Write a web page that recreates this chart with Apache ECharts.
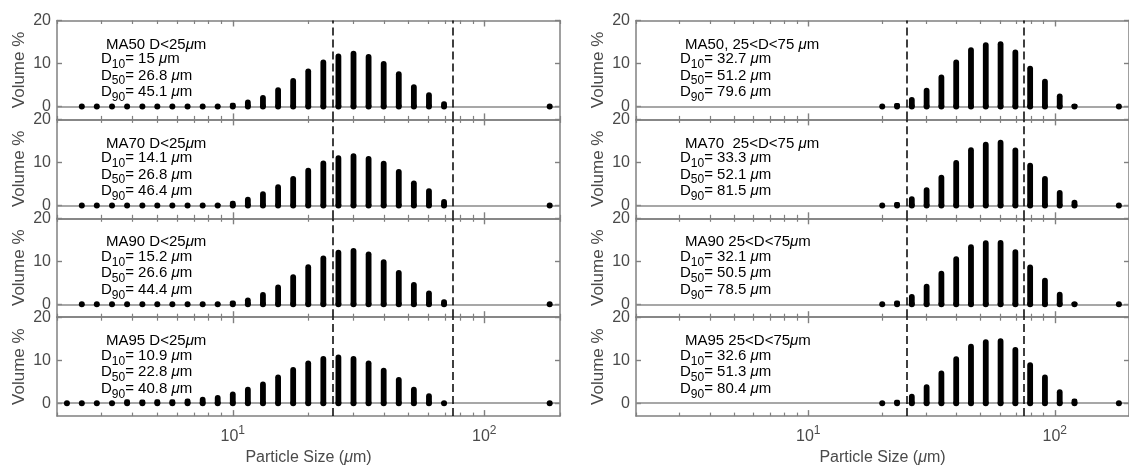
<!DOCTYPE html>
<html><head><meta charset="utf-8">
<script src="https://cdn.jsdelivr.net/npm/echarts@6/dist/echarts.min.js"></script>
<style>html,body{margin:0;padding:0;background:#fff}#c{width:1129px;height:470px}</style>
</head><body><div id="c"></div><script>
// ---- data ----
// particle size bins (µm), fine (D<25) fractions and coarse (25<D<75) fractions
const sizesFine = [2.19, 2.51, 2.88, 3.31, 3.80, 4.37, 5.01, 5.75, 6.61, 7.59, 8.71, 10.0, 11.48, 13.18, 15.14, 17.38, 19.95, 22.91, 26.30, 30.20, 34.67, 39.81, 45.71, 52.48, 60.26, 69.18, 181.97];
const sizesCoarse = [19.95, 22.91, 26.30, 30.20, 34.67, 39.81, 45.71, 52.48, 60.26, 69.18, 79.43, 91.20, 104.7, 120.2, 181.97];

const volMA50Fine = [null, 0, 0, 0, 0, 0, 0, 0, 0, 0, 0.2, 0.85, 1.6, 2.7, 4.5, 6.6, 8.85, 10.95, 12.35, 12.95, 12.2, 10.6, 8.2, 5.2, 3.3, 1.2, 0];
const volMA70Fine = [null, 0, 0, 0, 0, 0, 0, 0, 0, 0, 0.3, 1.1, 2.0, 3.3, 4.9, 6.85, 8.75, 10.45, 11.65, 12.1, 11.5, 10.4, 8.45, 5.8, 4.0, 1.5, 0];
const volMA90Fine = [null, 0, 0, 0, 0, 0, 0, 0, 0, 0, 0.2, 0.9, 1.6, 2.85, 4.6, 7.0, 9.3, 11.35, 12.7, 13.1, 12.3, 10.5, 8.0, 5.2, 3.2, 1.2, 0];
const volMA95Fine = [0, 0, 0, 0.2, 0.9, 0.85, 0.9, 0.9, 1.1, 1.5, 1.9, 2.7, 3.8, 5.05, 6.7, 8.4, 9.95, 10.95, 11.35, 10.95, 9.95, 8.25, 6.1, 3.8, 2.3, 0.3, 0];

const volMA50Coarse = [0, 0.8, 2.2, 4.35, 7.45, 10.95, 13.8, 14.95, 15.15, 13.25, 9.5, 6.45, 3.05, 0.6, 0];
const volMA70Coarse = [0, 0.8, 2.1, 4.2, 7.15, 10.55, 13.5, 14.8, 15.25, 13.45, 9.9, 6.85, 3.6, 1.3, 0];
const volMA90Coarse = [0, 0.9, 2.4, 4.8, 7.8, 11.2, 13.95, 14.9, 14.95, 12.8, 9.25, 6.15, 2.9, 0.45, 0];
const volMA95Coarse = [0, 0.8, 2.2, 4.4, 7.6, 10.9, 13.8, 14.9, 15.1, 13.05, 9.55, 6.65, 3.25, 1.1, 0];

const titlesFine = ['MA50 D<25', 'MA70 D<25', 'MA90 D<25', 'MA95 D<25'];
const titlesCoarse = ['MA50, 25<D<75 ', 'MA70  25<D<75 ', 'MA90 25<D<75', 'MA95 25<D<75'];
const d10Fine = ['15', '14.1', '15.2', '10.9'];
const d50Fine = ['26.8', '26.8', '26.6', '22.8'];
const d90Fine = ['45.1', '46.4', '44.4', '40.8'];
const d10Coarse = ['32.7', '33.3', '32.1', '32.6'];
const d50Coarse = ['51.2', '52.1', '50.5', '51.3'];
const d90Coarse = ['79.6', '81.5', '78.5', '80.4'];

const cutSizes = [25, 75];
const xTicksMajor = [10, 100];
const xTicksMinor = [2, 3, 4, 5, 6, 7, 8, 9, 20, 30, 40, 50, 60, 70, 80, 90, 200];
const yTicks = [0, 10, 20];

// ---- layout / style ----
const FONT = 'Liberation Sans, Arial, Helvetica, sans-serif';
const colLeft = [57, 636], plotW = 503, top0 = 20.5, panelH = 98.9;
const FRAME = '#808080', AXTXT = '#4a4a4a', ANN = '#1a1a1a';

const panels = [
  {col: 0, sizes: sizesFine, vals: volMA50Fine, title: titlesFine[0], d: [d10Fine[0], d50Fine[0], d90Fine[0]]},
  {col: 0, sizes: sizesFine, vals: volMA70Fine, title: titlesFine[1], d: [d10Fine[1], d50Fine[1], d90Fine[1]]},
  {col: 0, sizes: sizesFine, vals: volMA90Fine, title: titlesFine[2], d: [d10Fine[2], d50Fine[2], d90Fine[2]]},
  {col: 0, sizes: sizesFine, vals: volMA95Fine, title: titlesFine[3], d: [d10Fine[3], d50Fine[3], d90Fine[3]]},
  {col: 1, sizes: sizesCoarse, vals: volMA50Coarse, title: titlesCoarse[0], d: [d10Coarse[0], d50Coarse[0], d90Coarse[0]]},
  {col: 1, sizes: sizesCoarse, vals: volMA70Coarse, title: titlesCoarse[1], d: [d10Coarse[1], d50Coarse[1], d90Coarse[1]]},
  {col: 1, sizes: sizesCoarse, vals: volMA90Coarse, title: titlesCoarse[2], d: [d10Coarse[2], d50Coarse[2], d90Coarse[2]]},
  {col: 1, sizes: sizesCoarse, vals: volMA95Coarse, title: titlesCoarse[3], d: [d10Coarse[3], d50Coarse[3], d90Coarse[3]]}
];

const grid = [], xAxis = [], yAxis = [], series = [], graphic = [];
const annRich = {
  n: {fontSize: 15, fontFamily: FONT, color: ANN},
  s: {fontSize: 12, fontFamily: FONT, color: ANN, padding: [11, 0, 0, 0]},
  mu: {fontSize: 15, fontFamily: FONT, color: ANN, fontStyle: 'italic'}
};

panels.forEach((p, gi) => {
  const row = gi % 4;
  const top = top0 + row * panelH;
  const left = colLeft[p.col];
  grid.push({left: left, top: top, width: plotW, height: panelH, show: false});
  const bottomRow = row === 3;
  const xBase = {
    type: 'log', logBase: 10, gridIndex: gi, min: 2, max: 200,
    splitLine: {show: false}, axisPointer: {show: false}
  };
  const xi = xAxis.length;
  xAxis.push(Object.assign({}, xBase, {
    position: 'bottom',
    axisLine: {show: true, onZero: false, lineStyle: {color: FRAME, width: 1.5}},
    axisTick: {show: true, inside: true, length: 6, customValues: xTicksMajor, lineStyle: {color: FRAME, width: 1.4}},
    axisLabel: {show: bottomRow, customValues: xTicksMajor, margin: 9,
      formatter: v => '{b|10}{s|' + Math.round(Math.log10(v)) + '}',
      rich: {b: {fontSize: 16, fontFamily: FONT, color: AXTXT}, s: {fontSize: 12, fontFamily: FONT, color: AXTXT, padding: [0, 0, 10, 0]}}},
    name: bottomRow ? '{n|Particle Size (}{mu|\u03bc}{n|m)}' : '',
    nameLocation: 'middle', nameGap: 33,
    nameTextStyle: {rich: {n: {fontSize: 16, fontFamily: FONT, color: AXTXT}, mu: {fontSize: 16, fontFamily: FONT, color: AXTXT, fontStyle: 'italic'}}}
  }));
  xAxis.push(Object.assign({}, xBase, {
    position: 'bottom', axisLine: {show: false, onZero: false},
    axisTick: {show: true, inside: true, length: 3.5, customValues: xTicksMinor, lineStyle: {color: FRAME, width: 1.2}},
    axisLabel: {show: false}
  }));
  xAxis.push(Object.assign({}, xBase, {
    position: 'top',
    axisLine: {show: true, onZero: false, lineStyle: {color: FRAME, width: 1.5}},
    axisTick: {show: true, inside: true, length: 6, customValues: xTicksMajor, lineStyle: {color: FRAME, width: 1.4}},
    axisLabel: {show: false}
  }));
  xAxis.push(Object.assign({}, xBase, {
    position: 'top', axisLine: {show: false, onZero: false},
    axisTick: {show: true, inside: true, length: 3.5, customValues: xTicksMinor, lineStyle: {color: FRAME, width: 1.2}},
    axisLabel: {show: false}
  }));
  const yi = yAxis.length;
  const yBase = {type: 'value', gridIndex: gi, min: -3, max: 20, splitLine: {show: false}};
  yAxis.push(Object.assign({}, yBase, {
    position: 'left',
    axisLine: {show: true, onZero: false, lineStyle: {color: FRAME, width: 1.5}},
    axisTick: {show: true, inside: true, length: 5, customValues: yTicks, lineStyle: {color: FRAME, width: 1.4}},
    axisLabel: {show: true, customValues: yTicks, margin: 6, fontSize: 16, fontFamily: FONT, color: AXTXT},
    name: 'Volume %', nameLocation: 'middle', nameGap: 29,
    nameTextStyle: {fontSize: 17, fontFamily: FONT, color: AXTXT}
  }));
  yAxis.push(Object.assign({}, yBase, {
    position: 'right',
    axisLine: {show: true, onZero: false, lineStyle: {color: FRAME, width: 1.5}},
    axisTick: {show: true, inside: true, length: 5, customValues: yTicks, lineStyle: {color: FRAME, width: 1.4}},
    axisLabel: {show: false}
  }));

  const data = [];
  p.sizes.forEach((s, i) => { if (p.vals[i] !== null) data.push([s, p.vals[i]]); });

  series.push({
    type: 'custom', xAxisIndex: xi, yAxisIndex: yi, z: 6, clip: false,
    data: data,
    renderItem: (params, api) => {
      const x = api.value(0), y = api.value(1);
      const base = api.coord([x, 0]);
      const tp = api.coord([x, y]);
      const w = 5.8;
      const h = base[1] - tp[1];
      const ch = [];
      if (h > 0.5) {
        const r = Math.min(w / 2, h / 2);
        ch.push({type: 'rect', shape: {x: base[0] - w / 2, y: tp[1], width: w, height: h, r: [r, r, 0, 0]}, style: {fill: '#000'}});
      }
      ch.push({type: 'circle', shape: {cx: base[0], cy: base[1], r: 3}, style: {fill: '#000'}});
      return {type: 'group', children: ch};
    },
    markLine: {
      silent: true, symbol: ['none', 'none'], label: {show: false}, animation: false,
      data: [{yAxis: 0, lineStyle: {color: '#8a8a8a', width: 1.6, type: 'solid'}}]
        .concat(cutSizes.map(c => ({xAxis: c, lineStyle: {color: '#111', width: 1.6, type: [8, 4]}})))
    }
  });

  const tx = left + 49, dx = left + 44;
  graphic.push({type: 'text', x: tx, y: top + 24, z: 10, style: {
    text: '{n|' + p.title + '}{mu|\u03bc}{n|m}', rich: annRich, verticalAlign: 'middle', align: 'left'}});
  const subs = ['10', '50', '90'];
  const ys = [38.5, 55, 71.5];
  subs.forEach((sb, k) => {
    graphic.push({type: 'text', x: dx, y: top + ys[k], z: 10, style: {
      text: '{n|D}{s|' + sb + '}{n|= ' + p.d[k] + ' }{mu|\u03bc}{n|m}', rich: annRich, verticalAlign: 'middle', align: 'left'}});
  });
});

const chart = echarts.init(document.getElementById('c'), null, {renderer: 'canvas'});
chart.setOption({
  animation: false,
  backgroundColor: '#fff',
  textStyle: {fontFamily: FONT},
  grid: grid, xAxis: xAxis, yAxis: yAxis, series: series, graphic: graphic
});
</script></body></html>
